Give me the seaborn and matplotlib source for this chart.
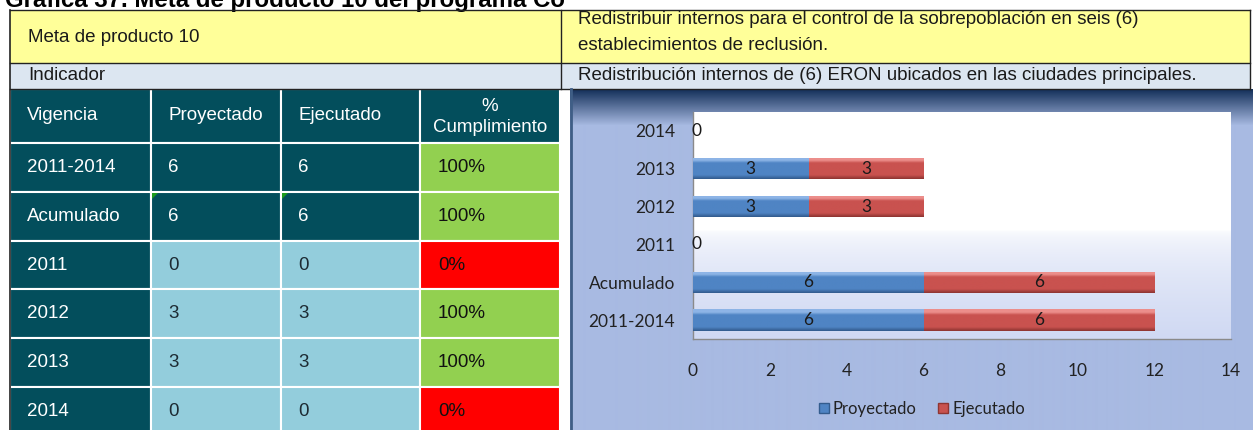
import numpy as np
import pandas as pd
import matplotlib.pyplot as plt
import matplotlib.patches as mpatches
from matplotlib.colors import LinearSegmentedColormap, to_rgb
import seaborn as sns

vigencias = ["2011-2014", "Acumulado", "2011", "2012", "2013", "2014"]
proyectado = [6, 6, 0, 3, 3, 0]
ejecutado = [6, 6, 0, 3, 3, 0]
cumplimiento = ["100%", "100%", "0%", "100%", "100%", "0%"]
x_ticks = [0, 2, 4, 6, 8, 10, 12, 14]

titulo = "Gráfica 37. Meta de producto 10 del programa Co"
meta = "Meta de producto 10"
meta_texto = ["Redistribuir internos para el control de la sobrepoblación en seis (6)",
              "establecimientos de reclusión."]
indicador = "Indicador"
indicador_texto = "Redistribución internos de (6) ERON ubicados en las ciudades principales."
encabezados = ["Vigencia", "Proyectado", "Ejecutado", "%\nCumplimiento"]

# Colores
YELLOW = "#FFFF99"
GRAY_ROW = "#DCE6F1"
TEAL = "#034E5C"
LIGHT = "#93CDDC"
GREEN = "#92D050"
RED = "#FF0000"
BLUE_BAR = "#4F84C4"
RED_BAR = "#C9524F"

plt.rcParams["font.family"] = ["Liberation Sans", "DejaVu Sans"]
CHART_FONT = ["Lato", "DejaVu Sans"]
FS = 13.5

W, H = 1253, 430
fig = plt.figure(figsize=(W / 100, H / 100), dpi=100)
base = fig.add_axes([0, 0, 1, 1])
base.set_xlim(0, W)
base.set_ylim(H, 0)
base.axis("off")


def rect(x0, y0, x1, y1, fc, ec="none", lw=0, z=1):
    base.add_patch(mpatches.Rectangle((x0, y0), x1 - x0, y1 - y0, facecolor=fc,
                                      edgecolor=ec, linewidth=lw, zorder=z))


# Titulo (cortado arriba, como en la captura)
base.text(5, 7, titulo, fontsize=17.3, fontweight="bold", va="baseline", color="black")

# Filas superiores
rect(10, 10, 561, 63, YELLOW, z=2)
rect(561, 10, 1250, 63, YELLOW, z=2)
rect(10, 63, 561, 89, GRAY_ROW, z=2)
rect(561, 63, 1250, 89, GRAY_ROW, z=2)
for y in [10, 63, 89]:
    base.plot([10, 1250], [y, y], color="#222222", lw=1, zorder=3)
base.plot([561, 561], [10, 89], color="#222222", lw=1, zorder=3)
base.plot([1250, 1250], [10, 89], color="#222222", lw=1, zorder=3)
base.plot([10, 10], [10, 430], color="#222222", lw=1.2, zorder=3)

base.text(28, 37, meta, va="center", fontsize=FS, color="#1a1a1a", zorder=4)
base.text(578, 19, meta_texto[0], va="center", fontsize=FS, color="#1a1a1a", zorder=4)
base.text(578, 45, meta_texto[1], va="center", fontsize=FS, color="#1a1a1a", zorder=4)
base.text(28, 76, indicador, va="center", fontsize=FS, color="#1a1a1a", zorder=4)
base.text(578, 76, indicador_texto, va="center", fontsize=FS, color="#1a1a1a", zorder=4)

# Tabla
col_x = [10, 151, 281, 420, 560]
row_y = [89, 143, 192, 241, 289, 338, 387, 436]
for j in range(4):
    rect(col_x[j], row_y[0], col_x[j + 1], row_y[1], TEAL, ec="white", lw=1.5)
for j in range(3):
    base.text(col_x[j] + 17, (row_y[0] + row_y[1]) / 2, encabezados[j], va="center",
              fontsize=FS, color="white")
base.text((col_x[3] + col_x[4]) / 2, (row_y[0] + row_y[1]) / 2 + 1, encabezados[3],
          va="center", ha="center", fontsize=FS, color="white", linespacing=1.25)

for i, vig in enumerate(vigencias):
    y0, y1 = row_y[i + 1], row_y[i + 2]
    yc = (y0 + y1) / 2
    oscuro = i < 2
    rect(col_x[0], y0, col_x[1], y1, TEAL, ec="white", lw=1.5)
    for j in (1, 2):
        rect(col_x[j], y0, col_x[j + 1], y1, TEAL if oscuro else LIGHT, ec="white", lw=1.5)
    rect(col_x[3], y0, col_x[4], y1, GREEN if cumplimiento[i] != "0%" else RED,
         ec="white", lw=1.5)
    base.text(col_x[0] + 17, yc, vig, va="center", fontsize=FS, color="white")
    txt_col = "white" if oscuro else "#1d2b33"
    base.text(col_x[1] + 17, yc, str(proyectado[i]), va="center", fontsize=FS, color=txt_col)
    base.text(col_x[2] + 17, yc, str(ejecutado[i]), va="center", fontsize=FS, color=txt_col)
    base.text(col_x[3] + 18, yc, cumplimiento[i], va="center", fontsize=FS, color="#111111")

# indicadores verdes de Excel
for xc in (col_x[1], col_x[2]):
    base.add_patch(mpatches.Polygon([[xc + 1, row_y[2] + 1], [xc + 7, row_y[2] + 1],
                                     [xc + 1, row_y[2] + 7]], closed=True,
                                    facecolor="#1E9B1E", edgecolor="none", zorder=4))

# Fondo del grafico (degradado)
top_c = np.array(to_rgb("#14305A"))
bot_c = np.array(to_rgb("#A8BAE2"))
yy = np.arange(89, 430)
t = np.clip((yy - 89) / 36.0, 0, 1)[:, None]
bg = top_c * (1 - t) + bot_c * t
base.imshow(bg[:, None, :], extent=(570, 1253, 430, 89), aspect="auto",
            interpolation="bilinear", zorder=0.5)
base.plot([571, 571], [89, 430], color="#3F5E86", lw=2, zorder=3)

# Area de trazado (blanco a lavanda)
pa_w = np.array(to_rgb("#FFFFFF"))
pa_b = np.array(to_rgb("#D0D9F3"))
yy = np.arange(112, 340)
t = np.clip((yy - 230) / 109.0, 0, 1)[:, None] ** 0.5
pa = pa_w * (1 - t) + pa_b * t
base.imshow(pa[:, None, :], extent=(693, 1231, 339, 112), aspect="auto",
            interpolation="bilinear", zorder=0.6)
base.set_xlim(0, W)
base.set_ylim(H, 0)

# Grafico de barras apiladas
ax = fig.add_axes([693 / W, 1 - 339 / H, (1231 - 693) / W, (339 - 112) / H])
ax.set_facecolor("none")

df = pd.DataFrame({"Vigencia": vigencias, "Proyectado": proyectado, "Ejecutado": ejecutado})
df["Total"] = df["Proyectado"] + df["Ejecutado"]
orden = vigencias[::-1]

sns.barplot(data=df, x="Total", y="Vigencia", order=orden, color=RED_BAR, saturation=1,
            width=0.56, orient="h", errorbar=None, ax=ax)
sns.barplot(data=df, x="Proyectado", y="Vigencia", order=orden, color=BLUE_BAR, saturation=1,
            width=0.56, orient="h", errorbar=None, ax=ax)


def bevel_cmap(light, body, dark):
    return LinearSegmentedColormap.from_list(
        "b", [(0, light), (0.14, light), (0.26, body), (0.82, body), (1, dark)])


cm_red = bevel_cmap("#EC8E8B", RED_BAR, "#8F3532")
cm_blue = bevel_cmap("#8DB4E6", BLUE_BAR, "#335C8E")
grad = np.linspace(0, 1, 40)[:, None]
n = len(orden)
for k, p in enumerate(ax.patches):
    es_rojo = k < n
    p.set_zorder(2 if es_rojo else 3)
    p.set_edgecolor("none")
    if p.get_width() <= 0:
        continue
    x0, y0, w, h = p.get_x(), p.get_y(), p.get_width(), p.get_height()
    im = ax.imshow(grad, extent=(x0, x0 + w, y0 + h, y0), aspect="auto",
                   cmap=cm_red if es_rojo else cm_blue, interpolation="bilinear",
                   zorder=2.5 if es_rojo else 3.5)
    im.set_clip_path(p)

# etiquetas de datos
for vig, p, e in zip(vigencias, proyectado, ejecutado):
    yi = orden.index(vig)
    if p + e == 0:
        ax.text(0.1, yi, "0", ha="center", va="center", fontsize=12.5, family=CHART_FONT,
                color="#1a1a1a", zorder=5)
        continue
    ax.text(p / 2, yi, str(p), ha="center", va="center", fontsize=12.5, family=CHART_FONT,
            color="#1a1a1a", zorder=5)
    ax.text(p + e / 2, yi, str(e), ha="center", va="center", fontsize=12.5, family=CHART_FONT,
            color="#1a1a1a", zorder=5)

ax.set_xlim(0, 14)
ax.set_ylim(len(orden) - 0.5, -0.5)
ax.set_xticks(x_ticks)
ax.set_xlabel("")
ax.set_ylabel("")
ax.tick_params(axis="x", length=0, pad=17, labelsize=12.5, labelcolor="#222222")
ax.tick_params(axis="y", length=0, pad=13, labelsize=12.5, labelcolor="#222222")
for lab in ax.get_xticklabels() + ax.get_yticklabels():
    lab.set_family(CHART_FONT)
for s in ("top", "right"):
    ax.spines[s].set_visible(False)
for s in ("left", "bottom"):
    ax.spines[s].set_color("#8A8A8A")
    ax.spines[s].set_linewidth(1)

handles = [mpatches.Patch(facecolor=BLUE_BAR, edgecolor="#335C8E"),
           mpatches.Patch(facecolor=RED_BAR, edgecolor="#8F3532")]
fig.legend(handles, ["Proyectado", "Ejecutado"], loc="center",
           bbox_to_anchor=(922 / W, 1 - 409 / H), ncol=2, frameon=False,
           handlelength=0.6, handleheight=0.6, handletextpad=0.25, columnspacing=1.3,
           prop={"family": CHART_FONT, "size": 12}, labelcolor="#222222")

fig.savefig("out.png", dpi=100)
